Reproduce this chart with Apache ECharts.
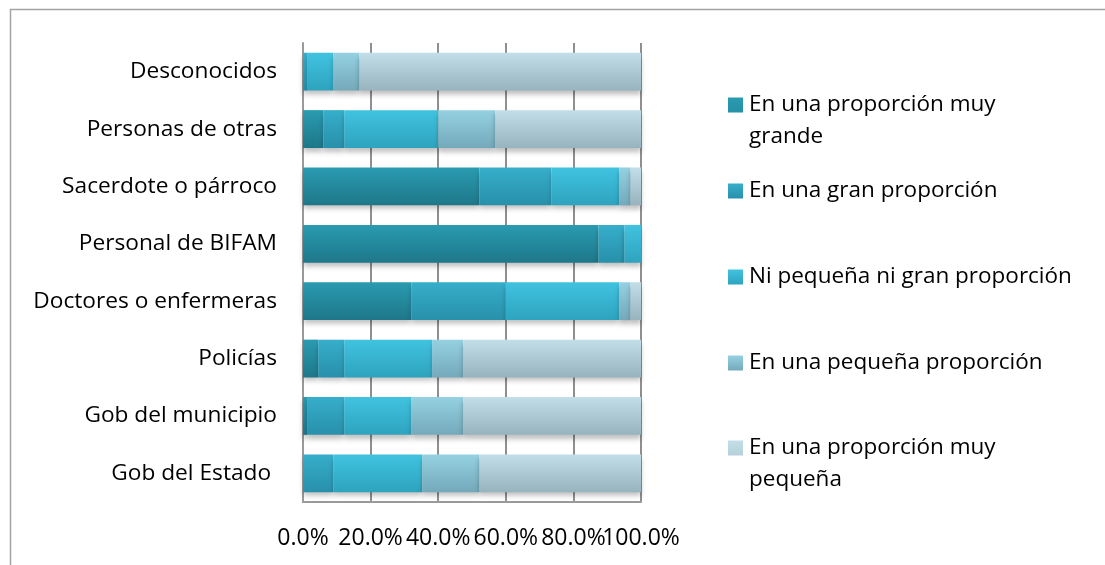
<!DOCTYPE html>
<html>
<head>
<meta charset="utf-8">
<script src="https://cdn.jsdelivr.net/npm/echarts@6/dist/echarts.min.js"></script>
<style>
  html, body { margin: 0; padding: 0; background: #fff; }
  #chart { width: 1105px; height: 565px; }
</style>
</head>
<body>
<div id="chart"></div>
<script>
// categories, top to bottom
const categories = ['Desconocidos', 'Personas de otras', 'Sacerdote o párroco', 'Personal de BIFAM',
  'Doctores o enfermeras', 'Policías', 'Gob del municipio', 'Gob del Estado ']

const seriesNames = ['En una proporción muy\ngrande', 'En una gran proporción', 'Ni pequeña ni gran proporción',
  'En una pequeña proporción', 'En una proporción muy\npequeña']

// percentages, same order as categories
const muyGrande = [0, 6.0, 52.2, 87.4, 32.1, 4.5, 1.2, 0]
const granProp = [1.2, 6.2, 21.3, 7.7, 27.8, 7.7, 11.0, 9.0]
const niPequenaNiGran = [7.8, 27.8, 20.1, 4.9, 33.7, 26.0, 19.8, 26.3]
const pequenaProp = [7.7, 16.9, 3.3, 0, 3.3, 9.2, 15.4, 16.9]
const muyPequena = [83.3, 43.1, 3.2, 0, 3.1, 52.6, 52.6, 47.8]

const xTicks = [0, 20, 40, 60, 80, 100]

const values = [muyGrande, granProp, niPequenaNiGran, pequenaProp, muyPequena]
const colors = [
  ['#2a9bb1', '#1e7789'],
  ['#36aecb', '#2890aa'],
  ['#40c3e0', '#2ea3be'],
  ['#95d1e2', '#74a9ba'],
  ['#c2dfe9', '#97b3bd']
]
// legend first-line centres
const legendTops = [103, 189, 275, 361, 446]

const chart = echarts.init(document.getElementById('chart'))

const font = '"Open Sans", "Noto Sans", sans-serif'

const labelStyle = {
  margin: 25,
  fontFamily: font,
  fontSize: 23,
  color: '#000'
}

chart.setOption({
  animation: false,
  backgroundColor: '#fff',
  graphic: [{
    type: 'rect',
    shape: { x: 10.5, y: 9.5, width: 1120, height: 580 },
    style: { fill: 'none', stroke: '#a3a3a3', lineWidth: 1.5 },
    silent: true
  }],
  legend: seriesNames.map((n, i) => ({
    left: 728,
    top: legendTops[i] - 16,
    padding: 0,
    orient: 'vertical',
    selectedMode: false,
    itemWidth: 15,
    itemHeight: n.indexOf('\n') >= 0 ? 47 : 15,
    data: [{
      name: n,
      icon: n.indexOf('\n') >= 0 ? 'path://M0,0L15,0L15,15L0,15Z M0,47L15,47' : 'rect'
    }],
    textStyle: { fontFamily: font, fontSize: 22.5, color: '#000', lineHeight: 32, padding: [4, 0, 0, 1] }
  })),
  grid: { left: 303, right: 464, top: 43, bottom: 63 },
  xAxis: [{
    type: 'value',
    min: 0,
    max: 100,
    interval: 20,
    axisLine: { show: true, lineStyle: { color: '#9a9a9a', width: 2 } },
    axisTick: { show: false },
    splitLine: { show: true, lineStyle: { color: '#8f8f8f', width: 2 } },
    axisLabel: Object.assign({}, labelStyle, {
      showMaxLabel: false,
      formatter: v => xTicks.indexOf(v) >= 0 && v < 100 ? v.toFixed(1) + '%' : ''
    })
  }, {
    // second axis only carries the 100.0% label, which would otherwise be dropped as overlapping
    type: 'value',
    position: 'bottom',
    min: 0,
    max: 100,
    interval: 20,
    axisLine: { show: false },
    axisTick: { show: false },
    splitLine: { show: false },
    axisLabel: Object.assign({}, labelStyle, {
      showMaxLabel: true,
      formatter: v => v === 100 ? v.toFixed(1) + '%' : ''
    })
  }],
  yAxis: {
    type: 'category',
    inverse: true,
    data: categories,
    axisLine: { show: true, lineStyle: { color: '#9a9a9a', width: 2 } },
    axisTick: { show: false },
    axisLabel: {
      margin: 26,
      fontFamily: font,
      fontSize: 22.7,
      color: '#000',
      padding: [6, 0, 0, 0]
    }
  },
  series: values.map((d, i) => ({
    name: seriesNames[i],
    type: 'bar',
    stack: 'total',
    barCategoryGap: '34%',
    data: d,
    itemStyle: {
      color: new echarts.graphic.LinearGradient(0, 0, 0, 1, [
        { offset: 0, color: colors[i][0] },
        { offset: 1, color: colors[i][1] }
      ]),
      shadowColor: 'rgba(0,0,0,0.25)',
      shadowBlur: 5,
      shadowOffsetY: 4
    }
  }))
})
</script>
</body>
</html>
